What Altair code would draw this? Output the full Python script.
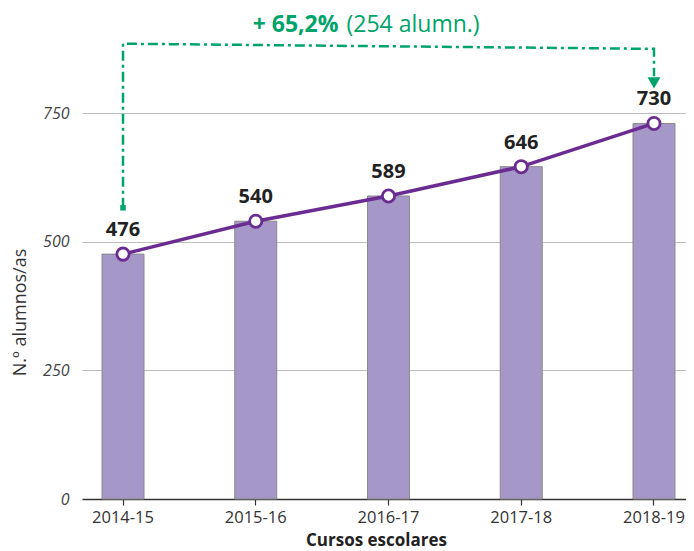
import altair as alt
import pandas as pd

cursos = ["2014-15", "2015-16", "2016-17", "2017-18", "2018-19"]
alumnos = [476, 540, 589, 646, 730]

# annotation bracket (data coordinates)
ann_x = ["2014-15", "2014-15", "2018-19", "2018-19"]
ann_y = [566, 885, 875, 822]
ann_order = [0, 1, 2, 3]
arrow_x = ["2018-19"]
arrow_y = [809]
start_x = ["2014-15"]
start_y = [566]
ann_text_x = ["2016-17"]
ann_text_y = [908]
ann_bold = ["+ 65,2%"]
ann_reg = ["(254 alumn.)"]

FONT = "Open Sans"
GREEN = "#00a46a"
PURPLE = "#6b2c91"

df = pd.DataFrame({"curso": cursos, "n": alumnos})
ann = pd.DataFrame({"curso": ann_x, "n": ann_y, "o": ann_order})
arrow = pd.DataFrame({"curso": arrow_x, "n": arrow_y})
start = pd.DataFrame({"curso": start_x, "n": start_y})
atext = pd.DataFrame({"curso": ann_text_x, "n": ann_text_y, "b": ann_bold, "r": ann_reg})

xscale = alt.Scale(domain=cursos, paddingInner=0.6836, paddingOuter=0.1168, align=0.645)
yscale = alt.Scale(domain=[0, 900], nice=False)

x = alt.X("curso:N", scale=xscale, sort=cursos,
          axis=alt.Axis(title="Cursos  escolares", labelAngle=0, labelFontSize=16.5,
                        labelColor="#333", labelFont=FONT, domainColor="#333",
                        domainWidth=1.5, tickColor="#333", tickSize=6, tickWidth=1.2,
                        labelPadding=4, titleFont=FONT, titleFontSize=17,
                        titleFontWeight="bold", titleColor="#222",
                        titleX=294, titleY=46, titleBaseline="alphabetic",
                        titleAlign="center"))
y = alt.Y("n:Q", scale=yscale,
          axis=alt.Axis(title="N.º alumnos/as", values=[0, 250, 500, 750],
                        grid=True, gridColor="#bdbdbd", gridWidth=1.2,
                        domain=False, ticks=False, labelFontSize=16,
                        labelFontStyle="italic", labelColor="#444", labelFont=FONT,
                        labelPadding=13, titleFont=FONT, titleFontSize=18,
                        titleFontWeight="normal", titleColor="#333",
                        titleX=-62, titleY=276, titleAngle=270,
                        titleAlign="center", titleBaseline="middle"))

bars = alt.Chart(df).mark_bar(color="#a597c8", stroke="#8a8a8a", strokeWidth=1).encode(x=x, y=y)
line = alt.Chart(df).mark_line(color=PURPLE, strokeWidth=3.5).encode(x=x, y=y)
pts = alt.Chart(df).mark_point(filled=True, fill="white", stroke=PURPLE, strokeWidth=2.8,
                               size=150, opacity=1, shape="circle").encode(x=x, y=y)
labels = alt.Chart(df).mark_text(dy=-24, fontSize=20, fontWeight="bold", color="#222",
                                 font=FONT, baseline="middle").encode(x=x, y=y, text="n:Q")

bracket = alt.Chart(ann).mark_line(color=GREEN, strokeWidth=2.5,
                                   strokeDash=[10, 4, 3, 4]).encode(x=x, y=y, order="o:Q")
arrow_m = alt.Chart(arrow).mark_point(shape="triangle-down", filled=True, color=GREEN,
                                      size=170, opacity=1).encode(x=x, y=y)
start_m = alt.Chart(start).mark_point(shape="square", filled=True, color=GREEN,
                                      size=30, opacity=1).encode(x=x, y=y)
t_bold = alt.Chart(atext).mark_text(dx=-50, align="right", baseline="alphabetic",
                                    fontSize=23, fontWeight="bold", color=GREEN,
                                    font=FONT).encode(x=x, y=y, text="b:N")
t_reg = alt.Chart(atext).mark_text(dx=-42, align="left", baseline="alphabetic",
                                   fontSize=23, color=GREEN,
                                   font=FONT).encode(x=x, y=y, text="r:N")

chart = alt.layer(bars, line, pts, labels, bracket, arrow_m, start_m, t_bold, t_reg).properties(
    width=604, height=463,
    autosize=alt.AutoSizeParams(type="none"),
    padding={"left": 74, "top": 28, "right": 0, "bottom": 52},
).configure_view(stroke=None)

chart.save("out.html", embed_options={"renderer": "svg", "actions": False})
